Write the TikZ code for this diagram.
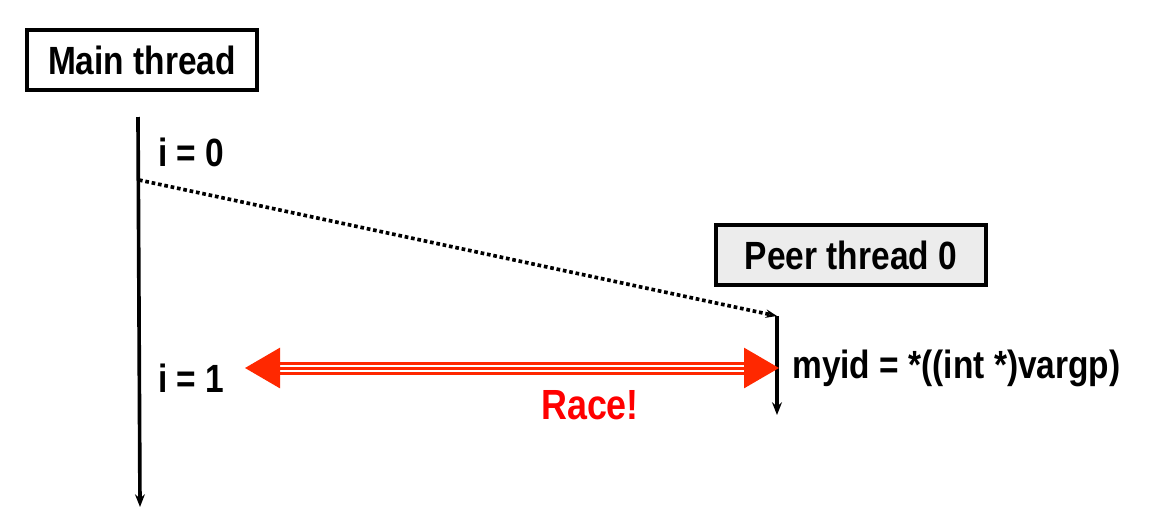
\documentclass[tikz,border=0pt]{standalone}
\usepackage{fontspec}
\setmainfont{Liberation Sans}[FakeStretch=0.85]
\usetikzlibrary{arrows.meta}
\definecolor{racered}{RGB}{255,40,0}
\begin{document}
\begin{tikzpicture}[x=0.025cm,y=-0.025cm,
    threadbox/.style={draw, line width=2.5pt, inner sep=0pt, minimum height=60*0.025cm, font=\bfseries\fontsize{28}{30}\selectfont},
    lbl/.style={font=\bfseries\fontsize{28}{30}\selectfont, inner sep=0pt, anchor=west}]
        \useasboundingbox (0,0) rectangle (1152,528);
        % Thread headers
        \node[threadbox, fill=white, minimum width=230*0.025cm] (main) at (142,60) {Main thread};
        \node[threadbox, fill=gray!15, minimum width=270*0.025cm] (peer) at (851,255) {Peer thread 0};

        % Time lines
        \coordinate (mtop) at (138,117);
        \coordinate (mbot) at (140,507);
        \coordinate (ptop) at (777,316);
        \coordinate (pbot) at (777,415);
        \coordinate (spawn) at (139,180);
        \draw[-{Stealth[length=9pt,width=7pt]}, line width=2.6pt] (mtop) -- (mbot);
        \draw[-{Stealth[length=9pt,width=7pt]}, line width=2.6pt] (ptop) -- (pbot);
        \draw[-{Stealth[length=8pt,width=6pt]}, line width=2.6pt, dotted] (spawn) -- (ptop);

        % Labels
        \node[lbl] (i0) at (158,152) {i = 0};
        \node[lbl] (i1) at (158,378) {i = 1};
        \node[lbl] (myid) at (792,368) {myid = *((int *)vargp)};

        % Race arrow
        \coordinate (rl) at (245,368);
        \coordinate (rr) at (779,368);
        \draw[racered, line width=3*0.025cm, double=white, double distance=7*0.025cm,
            {Triangle[length=35*0.025cm,width=40*0.025cm]}-{Triangle[length=35*0.025cm,width=40*0.025cm]}] (rl) -- (rr);
        \draw[racered, line width=3*0.025cm, shorten <=34*0.025cm, shorten >=34*0.025cm] (rl) -- (rr);
        \node[lbl, anchor=center, text=red, font=\bfseries\fontsize{30}{32}\selectfont] (race) at (590,405) {Race!};
\end{tikzpicture}
\end{document}
